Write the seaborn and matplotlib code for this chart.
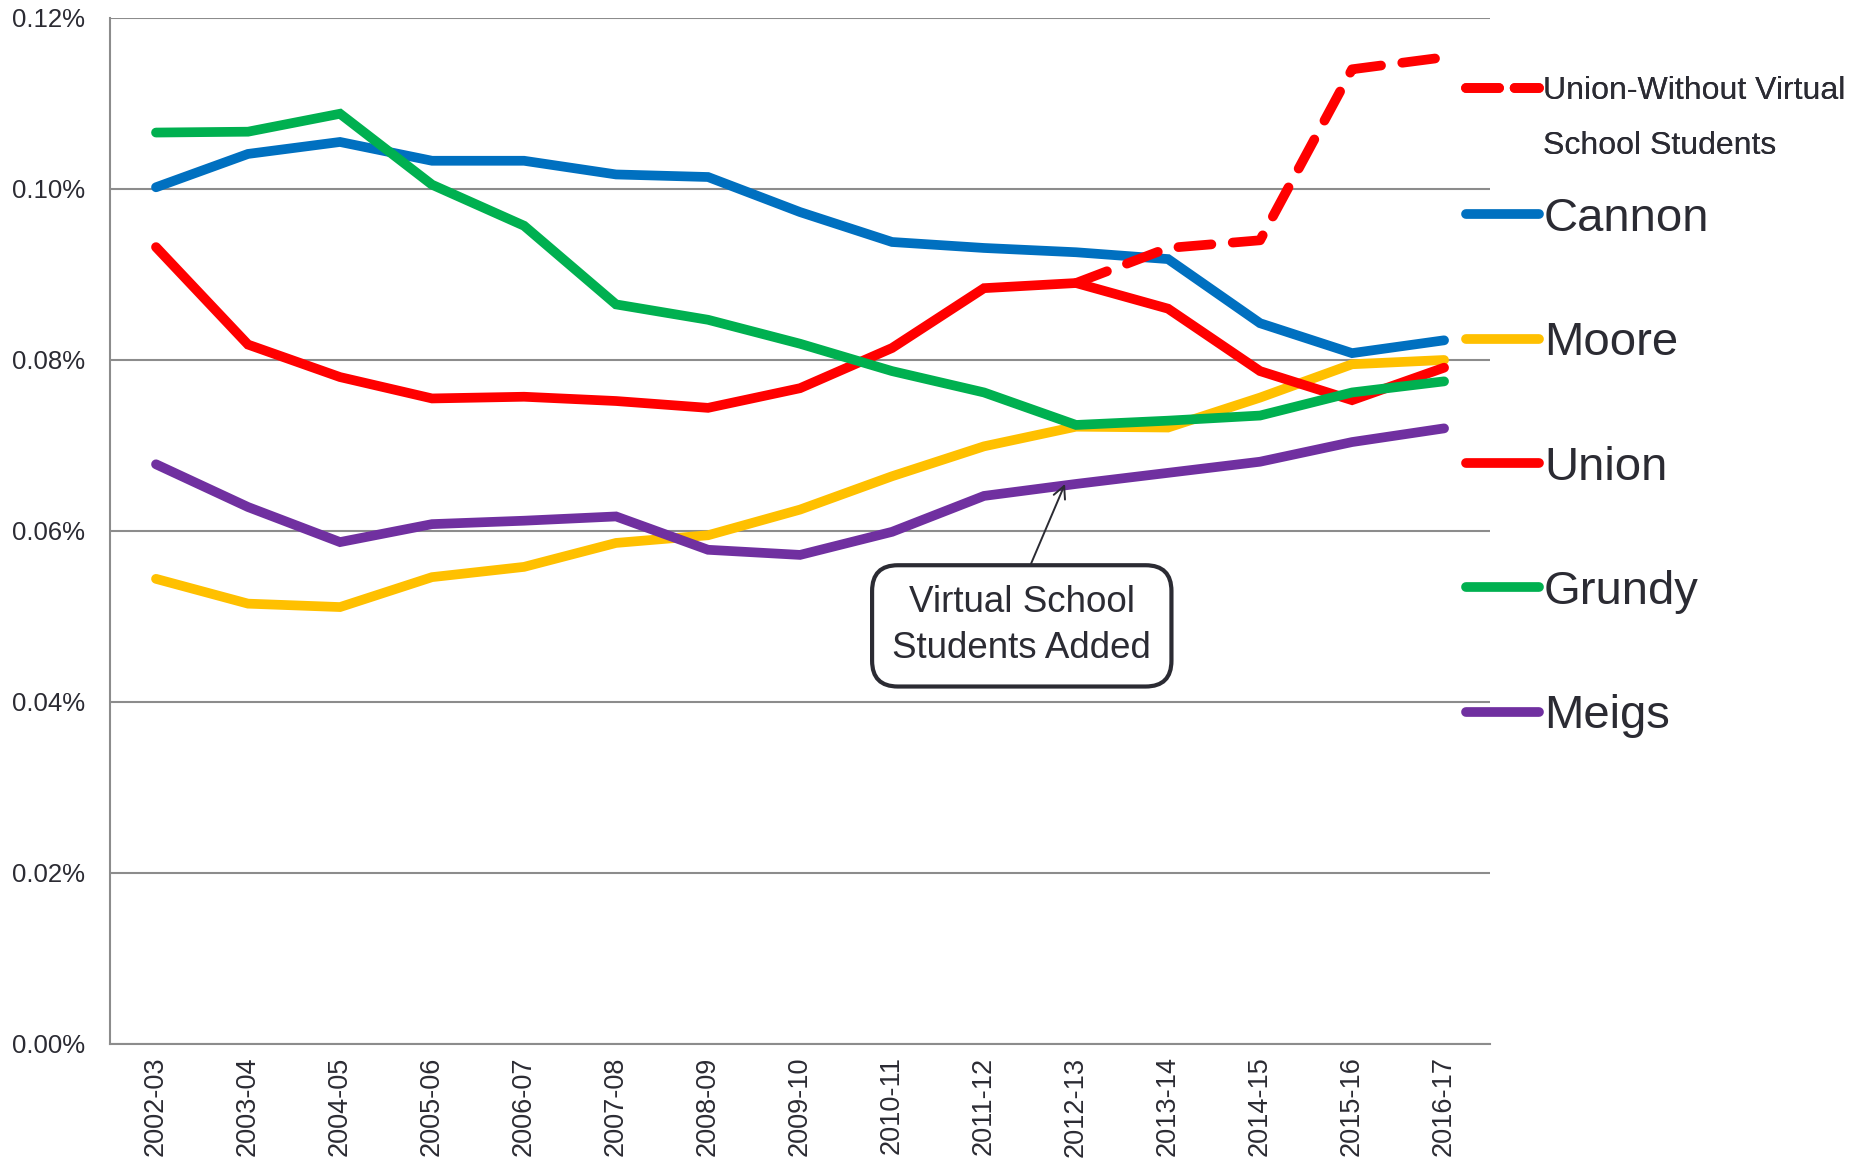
import numpy as np
import seaborn as sns
import matplotlib.pyplot as plt
from matplotlib.lines import Line2D
from matplotlib.ticker import FixedLocator, FuncFormatter

seasons = ["2002-03", "2003-04", "2004-05", "2005-06", "2006-07", "2007-08", "2008-09",
           "2009-10", "2010-11", "2011-12", "2012-13", "2013-14", "2014-15", "2015-16", "2016-17"]

# values in percent
cannon = [0.1002, 0.1041, 0.1055, 0.1033, 0.1033, 0.1017, 0.1014, 0.0973, 0.0938,
          0.0931, 0.0926, 0.0918, 0.0843, 0.0808, 0.0823]
moore = [0.0544, 0.0515, 0.0511, 0.0546, 0.0558, 0.0586, 0.0595, 0.0625, 0.0664,
         0.0699, 0.0722, 0.0721, 0.0756, 0.0795, 0.0800]
union = [0.0932, 0.0818, 0.0780, 0.0755, 0.0757, 0.0752, 0.0744, 0.0767, 0.0814,
         0.0884, 0.0890, 0.0860, 0.0787, 0.0753, 0.0791]
grundy = [0.1066, 0.1067, 0.1088, 0.1005, 0.0957, 0.0865, 0.0847, 0.0819, 0.0787,
          0.0762, 0.0724, 0.0729, 0.0735, 0.0762, 0.0775]
meigs = [0.0678, 0.0628, 0.0587, 0.0608, 0.0612, 0.0617, 0.0578, 0.0572, 0.0599,
         0.0641, 0.0655, 0.0668, 0.0681, 0.0704, 0.0720]
union_wo_seasons = ["2012-13", "2013-14", "2014-15", "2015-16", "2016-17"]
union_wo = [0.0890, 0.0931, 0.0940, 0.1140, 0.1154]

series = [("Cannon", cannon, "#0070C0"), ("Moore", moore, "#FFC000"),
          ("Union", union, "#FF0000"), ("Grundy", grundy, "#00B050"),
          ("Meigs", meigs, "#7030A0")]

sns.set_style("white")
plt.rcParams["font.family"] = ["Liberation Sans", "DejaVu Sans"]
txt = "#2B2B33"
grid = "#8C8C8C"

fig = plt.figure(figsize=(18.71, 11.68), dpi=100)
ax = fig.add_axes([0.0588, 0.1062, 0.7376, 0.8784])

pos = {s: i for i, s in enumerate(seasons)}
lw = 7
for name, vals, col in series:
    sns.lineplot(x=[pos[s] for s in seasons], y=vals, color=col, lw=lw, ax=ax,
                 solid_capstyle="round", solid_joinstyle="miter", zorder=3)
sns.lineplot(x=[pos[s] for s in union_wo_seasons], y=union_wo, color="#FF0000", lw=lw, ax=ax,
             linestyle=(0, (3.4, 2.2)), dash_capstyle="round", zorder=3)

ax.set_xlim(-0.5, len(seasons) - 0.5)
ax.set_ylim(0, 0.12)
ax.set_yticks([0, 0.02, 0.04, 0.06, 0.08, 0.10, 0.12])
ax.yaxis.set_major_formatter(FuncFormatter(lambda v, p: f"{v:.2f}%"))
ax.grid(axis="y", color=grid, lw=1.5)
ax.set_axisbelow(True)
for side in ["top", "right"]:
    ax.spines[side].set_visible(False)
for side in ["left", "bottom"]:
    ax.spines[side].set_color(grid)
    ax.spines[side].set_linewidth(1.5)

ax.set_xticks(range(len(seasons)))
ax.set_xticklabels(seasons, rotation=90, fontsize=19.5, color=txt)
ax.xaxis.set_minor_locator(FixedLocator(np.arange(-0.5, len(seasons), 1.0)))
ax.tick_params(axis="x", which="major", length=0, pad=9)
ax.tick_params(axis="x", which="minor", length=8, width=1.5, color=grid, direction="out")
ax.tick_params(axis="y", length=6, width=1.5, color=grid, direction="out", pad=12,
               labelsize=18.5, labelcolor=txt)
ax.set_xlabel("")
ax.set_ylabel("")

ax.annotate("Virtual School\nStudents Added", xy=(9.88, 0.0655), xytext=(9.41, 0.0489),
            ha="center", va="center", fontsize=26.5, color=txt, linespacing=1.4,
            bbox=dict(boxstyle="round,pad=0.55,rounding_size=0.7", fc="white", ec=txt, lw=3),
            arrowprops=dict(arrowstyle="->", color=txt, lw=1.4, mutation_scale=22,
                            relpos=(0.5, 1.0), shrinkA=0, shrinkB=0), zorder=5)

# legend: dashed entry on top, then the counties
h1 = [Line2D([], [], color="#FF0000", lw=lw, linestyle=(0, (3.4, 1.6)), dash_capstyle="round"),
      Line2D([], [], color="none", lw=0)]
leg1 = fig.legend(h1, ["Union-Without Virtual", "School Students"], loc="upper left",
                  bbox_to_anchor=(1466 / 1871, 1 - 76 / 1168), frameon=False, fontsize=23,
                  handlelength=2.3, handletextpad=0.12, labelspacing=0.79, borderpad=0,
                  borderaxespad=0)
for t in leg1.get_texts():
    t.set_color(txt)

h2 = [Line2D([], [], color=c, lw=lw, solid_capstyle="round") for _, _, c in series]
leg2 = fig.legend(h2, [n for n, _, _ in series], loc="upper left",
                  bbox_to_anchor=(1466 / 1871, 1 - 197 / 1168), frameon=False, fontsize=34,
                  handlelength=1.55, handletextpad=0.1, labelspacing=1.70, borderpad=0,
                  borderaxespad=0)
for t in leg2.get_texts():
    t.set_color(txt)
fig.add_artist(leg1)

fig.savefig("out.png", dpi=100)
